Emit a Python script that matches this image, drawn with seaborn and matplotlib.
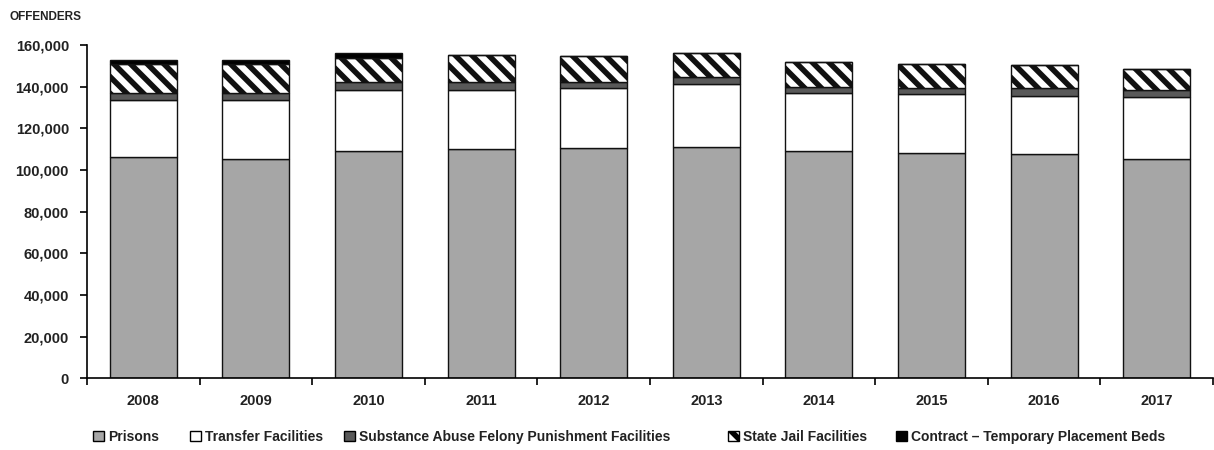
import numpy as np
import pandas as pd
import matplotlib
matplotlib.use("Agg")
import matplotlib.pyplot as plt
import seaborn as sns
from matplotlib.patches import Patch
from matplotlib.ticker import FuncFormatter, FixedLocator
from matplotlib import font_manager

years = ["2008", "2009", "2010", "2011", "2012", "2013", "2014", "2015", "2016", "2017"]
prisons = [106100, 105300, 109100, 109900, 110400, 111000, 109100, 108300, 107700, 105100]
transfer = [27500, 28300, 29300, 28500, 28800, 30100, 27700, 28000, 27800, 29800]
safpf = [3500, 3200, 3700, 4000, 3200, 3400, 3200, 3200, 3700, 3500]
state_jail = [13600, 13900, 11500, 12600, 12400, 11700, 11900, 11200, 11200, 9900]
contract = [2100, 2100, 2700, 200, 100, 100, 100, 0, 0, 0]

series_names = ["Prisons", "Transfer Facilities", "Substance Abuse Felony Punishment Facilities",
                "State Jail Facilities", "Contract \u2013 Temporary Placement Beds"]

available = {f.name for f in font_manager.fontManager.ttflist}
narrow = "Liberation Sans Narrow" in available
fam = "Liberation Sans Narrow" if narrow else "Liberation Sans"
fs = 12.5 if narrow else 10.5
lfs = 12.5 if narrow else 10
weight = "bold"

sns.set_theme(style="white")
plt.rcParams["font.family"] = [fam, "DejaVu Sans"]
plt.rcParams["hatch.linewidth"] = 4.0

fig = plt.figure(figsize=(12.14, 4.5), dpi=100)
ax = fig.add_axes([87 / 1214, 1 - 378.3 / 450, 1 - 88 / 1214, (378.3 - 45) / 450])

styles = [
    dict(color="#a6a6a6", hatch=None),
    dict(color="#ffffff", hatch=None),
    dict(color="#595959", hatch=None),
    dict(color="#ffffff", hatch="\\\\"),
    dict(color="#000000", hatch=None),
]
data = [prisons, transfer, safpf, state_jail, contract]
bottom = np.zeros(len(years))
for name, vals, st in zip(series_names, data, styles):
    df = pd.DataFrame({"year": years, "value": vals})
    kw = dict(bottom=bottom.copy(), edgecolor="#111111", linewidth=1.0)
    if st["hatch"]:
        kw["hatch"] = st["hatch"]
    sns.barplot(data=df, x="year", y="value", color=st["color"], saturation=1,
                errorbar=None, width=0.594, ax=ax, **kw)
    bottom = bottom + np.array(vals)

ax.set_xlim(-0.5, len(years) - 0.5)
ax.set_ylim(0, 160000)
ax.set_yticks(range(0, 160001, 20000))
ax.yaxis.set_major_formatter(FuncFormatter(lambda v, p: f"{int(v):,}"))
ax.set_xlabel("")
ax.set_ylabel("")
for s in ["top", "right"]:
    ax.spines[s].set_visible(False)
for s in ["left", "bottom"]:
    ax.spines[s].set_color("black")
    ax.spines[s].set_linewidth(1.2)

ax.tick_params(axis="y", which="major", left=True, length=5, width=1.2, color="black",
               pad=8, labelsize=fs, labelcolor="#222222")
ax.tick_params(axis="x", which="major", bottom=False, length=0, pad=11,
               labelsize=fs, labelcolor="#222222")
ax.xaxis.set_minor_locator(FixedLocator(np.arange(-0.5, len(years), 1.0)))
ax.tick_params(axis="x", which="minor", bottom=True, length=5, width=1.2, color="black")
for lab in ax.get_xticklabels() + ax.get_yticklabels():
    lab.set_fontweight(weight)

fig.text(0.008, 1 - 17 / 450, "OFFENDERS", fontsize=fs - 2, fontweight=weight,
         color="#222222", va="center", ha="left")

# legend entries placed at the reference's positions
legend_x = [93, 190, 344, 728, 896]
for name, st, lx in zip(series_names, styles, legend_x):
    h = Patch(facecolor=st["color"], edgecolor="black", linewidth=1.0,
              hatch=st["hatch"], label=name)
    leg = fig.legend(handles=[h], loc="center left", bbox_to_anchor=(lx / 1214, 0.029),
                     frameon=False, fontsize=lfs, handlelength=0.8, handleheight=0.8,
                     handletextpad=0.3, borderpad=0, borderaxespad=0)
    for t in leg.get_texts():
        t.set_fontweight(weight)
        t.set_color("#222222")

fig.savefig("out.png", dpi=100)
